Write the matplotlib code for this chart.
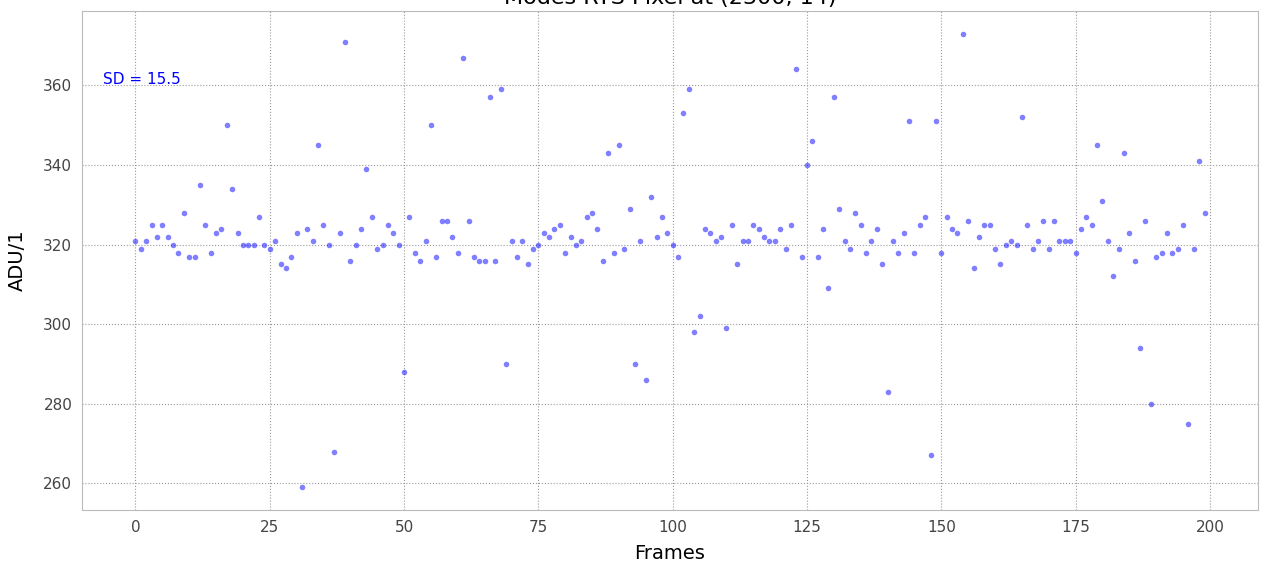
import numpy as np
import matplotlib
matplotlib.use('Agg')
import matplotlib.pyplot as plt

# ADU value of the pixel in each frame
adu = [321, 319, 321, 325, 322, 325, 322, 320, 318, 328,
       317, 317, 335, 325, 318, 323, 324, 350, 334, 323,
       320, 320, 320, 327, 320, 319, 321, 315, 314, 317,
       323, 259, 324, 321, 345, 325, 320, 268, 323, 371,
       316, 320, 324, 339, 327, 319, 320, 325, 323, 320,
       288, 327, 318, 316, 321, 350, 317, 326, 326, 322,
       318, 367, 326, 317, 316, 316, 357, 316, 359, 290,
       321, 317, 321, 315, 319, 320, 323, 322, 324, 325,
       318, 322, 320, 321, 327, 328, 324, 316, 343, 318,
       345, 319, 329, 290, 321, 286, 332, 322, 327, 323,
       320, 317, 353, 359, 298, 302, 324, 323, 321, 322,
       299, 325, 315, 321, 321, 325, 324, 322, 321, 321,
       324, 319, 325, 364, 317, 340, 346, 317, 324, 309,
       357, 329, 321, 319, 328, 325, 318, 321, 324, 315,
       283, 321, 318, 323, 351, 318, 325, 327, 267, 351,
       318, 327, 324, 323, 373, 326, 314, 322, 325, 325,
       319, 315, 320, 321, 320, 352, 325, 319, 321, 326,
       319, 326, 321, 321, 321, 318, 324, 327, 325, 345,
       331, 321, 312, 319, 343, 323, 316, 294, 326, 280,
       317, 318, 323, 318, 319, 325, 275, 319, 341, 328]
frames = np.arange(len(adu))
sd_text = 'SD = 15.5'
title = 'Modes RTS Pixel at (2300, 14)'

fig, ax = plt.subplots(figsize=(12.61, 5.65), dpi=100)
fig.subplots_adjust(left=82/1261, right=1258/1261, top=1-11/565, bottom=1-510/565)

ax.scatter(frames, adu, s=16, color='blue', alpha=0.5, linewidths=0)
ax.text(-6, 361.5, sd_text, color='blue', fontsize=11, va='center')

ax.grid(True, linestyle=':', color='#999999', linewidth=0.8)
ax.set_axisbelow(True)
for sp in ax.spines.values():
    sp.set_color('#bbbbbb')
ax.tick_params(length=0, labelsize=11, labelcolor='#444444', pad=7)
ax.set_yticks([260, 280, 300, 320, 340, 360])
ax.set_xlabel('Frames', fontsize=14, labelpad=7)
ax.set_ylabel('ADU/1', fontsize=14, labelpad=12)
ax.set_title(title, fontsize=16, pad=5)

fig.savefig('out.png', dpi=100)
